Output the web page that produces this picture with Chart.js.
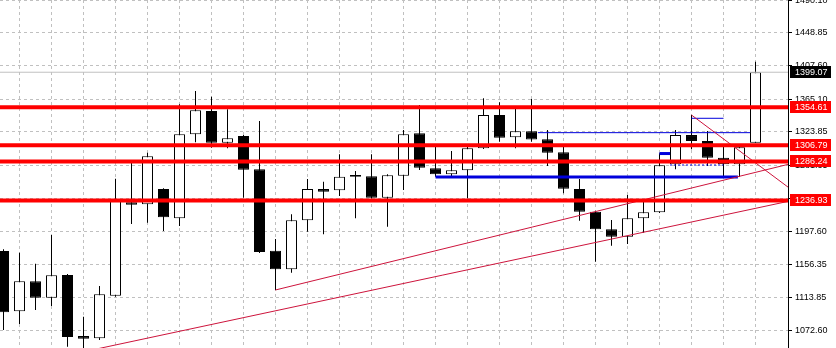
<!DOCTYPE html>
<html>
<head>
<meta charset="utf-8">
<style>
html, body { margin: 0; padding: 0; background: #fff; }
#wrap { width: 836px; height: 348px; }
</style>
<script src="https://cdn.jsdelivr.net/npm/chart.js@4.4.1/dist/chart.umd.min.js"></script>
</head>
<body>
<div id="wrap"><canvas id="chart" width="836" height="348"></canvas></div>
<script>
// OHLC per bar (bar index 0..47)
const opens = [1172.9, 1096.6, 1134.6, 1113.8, 1142.6, 1065.4, 1062.5, 1116.4, 1234.5, 1232.0,
    1251.3, 1214.3, 1320.5, 1350.0, 1309.9, 1318.4, 1276.3, 1173.3, 1149.8, 1211.7,
    1251.3, 1249.7, 1269.0, 1267.4, 1240.3, 1268.2, 1321.8, 1277.5, 1270.0, 1275.0,
    1302.8, 1344.9, 1316.7, 1324.3, 1314.2, 1297.8, 1251.3, 1222.6, 1200.4, 1191.0,
    1214.3, 1221.9, 1282.6, 1319.6, 1312.1, 1290.9, 1282.6, 1309.9];
const highs = [1175.0, 1170.7, 1156.8, 1193.1, 1143.8, 1089.8, 1128.6, 1264.4, 1284.6, 1297.3,
    1252.2, 1358.5, 1375.3, 1368.1, 1352.2, 1319.6, 1337.4, 1188.1, 1219.3, 1264.0,
    1260.6, 1295.2, 1274.1, 1295.2, 1269.9, 1326.0, 1357.6, 1304.9, 1299.4, 1306.1,
    1366.1, 1361.0, 1353.4, 1365.2, 1326.0, 1305.7, 1264.0, 1223.9, 1212.1, 1243.8,
    1235.3, 1296.5, 1326.0, 1344.9, 1324.7, 1304.9, 1305.7, 1412.4];
const lows = [1073.0, 1080.5, 1098.3, 1103.3, 1051.8, 1045.2, 1060.3, 1115.1, 1207.1, 1208.7,
    1198.2, 1204.5, 1310.4, 1303.6, 1302.8, 1240.3, 1170.4, 1123.6, 1145.4, 1197.3,
    1194.0, 1242.5, 1214.3, 1239.3, 1203.7, 1250.1, 1275.4, 1266.9, 1267.8, 1239.6,
    1301.9, 1311.2, 1302.8, 1311.2, 1280.4, 1245.9, 1211.2, 1159.4, 1179.6, 1181.8,
    1196.1, 1221.0, 1276.3, 1301.6, 1280.4, 1264.9, 1266.9, 1309.9];
const closes = [1095.4, 1134.6, 1113.8, 1142.2, 1064.1, 1062.0, 1118.1, 1236.2, 1231.5, 1292.7,
    1215.5, 1320.5, 1350.9, 1309.9, 1315.5, 1275.8, 1171.6, 1149.8, 1211.7, 1251.3,
    1247.9, 1266.9, 1266.9, 1240.3, 1268.7, 1320.5, 1278.3, 1270.0, 1275.0, 1302.8,
    1344.9, 1316.2, 1324.3, 1313.9, 1297.3, 1251.7, 1222.6, 1200.4, 1191.0, 1214.3,
    1221.9, 1281.3, 1319.6, 1312.1, 1290.9, 1282.6, 1304.1, 1399.07];

// price axis labels
const priceTicks = [1072.60, 1113.85, 1156.35, 1197.60, 1238.85, 1281.35, 1323.85, 1365.10, 1407.60, 1448.85, 1490.10];
// bars that get a vertical grid line
const gridBars = [1, 3, 5, 7, 9, 11, 13, 15, 17, 19, 21, 23, 25, 27, 29, 31, 33, 35, 37, 39, 41, 43, 45, 47];

// horizontal levels (red) and current price
const levels = [1354.61, 1306.79, 1286.24, 1236.93];
const bidPrice = 1399.07;

// trend lines: [barIndex, price] pairs
const trendLines = [
    [[5, 1045.4], [49.2, 1236.4]],
    [[17, 1123.6], [49.2, 1283.3]],
    [[43, 1344.9], [49.2, 1251.2]]
];

// blue segments: [fromBar, toBar, price]
const blueThick = [[27, 45.9, 1266.5], [41, 41.66, 1296.2]];
const blueThin = [[33.4, 46.66, 1322.6], [43, 45, 1340.8]];
const blueDotted = [[41.66, 45, 1281.7]];

const xMin = -0.21875;
const xMax = 49.03125;
const yMin = 1050.2;
const yMax = 1490.43;

const fontFamily = '"Liberation Sans", Arial, sans-serif';
const fontSize = 9;

const bodies = opens.map((o, i) => ({ x: i, y: [o, closes[i]] }));
const wicks = lows.map((l, i) => ({ x: i, y: [l, highs[i]] }));
const bodyFill = opens.map((o, i) => closes[i] > o ? '#ffffff' : '#000000');

function seg(from, to, price) {
    return [{ x: from, y: price }, { x: to, y: price }];
}

const lineSets = [];
levels.forEach(p => {
    lineSets.push({ type: 'line', data: seg(xMin, xMax, p), borderColor: '#ff0000', borderWidth: 4, pointRadius: 0, order: 0 });
});
lineSets.push({ type: 'line', data: seg(xMin, xMax, bidPrice), borderColor: '#c0c0c0', borderWidth: 1, pointRadius: 0, order: 0 });
trendLines.forEach(t => {
    lineSets.push({ type: 'line', data: t.map(p => ({ x: p[0], y: p[1] })), borderColor: 'rgb(205,20,60)', borderWidth: 1, pointRadius: 0, order: 0 });
});
blueThick.forEach(b => {
    lineSets.push({ type: 'line', data: seg(b[0], b[1], b[2]), borderColor: 'rgb(0,0,220)', borderWidth: 3, pointRadius: 0, order: 0 });
});
blueThin.forEach(b => {
    lineSets.push({ type: 'line', data: seg(b[0], b[1], b[2]), borderColor: 'rgb(0,0,220)', borderWidth: 1, pointRadius: 0, order: 0 });
});
blueDotted.forEach(b => {
    lineSets.push({ type: 'line', data: seg(b[0], b[1], b[2]), borderColor: 'rgb(0,0,220)', borderWidth: 1, borderDash: [2, 2], pointRadius: 0, order: 0 });
});

// price boxes on the axis
const priceBoxes = {
    id: 'priceBoxes',
    afterDraw(chart) {
        const { ctx, chartArea, scales: { y } } = chart;
        ctx.save();
        ctx.font = fontSize + 'px ' + fontFamily;
        ctx.textBaseline = 'middle';
        const boxes = levels.map(p => [p, '#ff0000']).concat([[bidPrice, '#000000']]);
        boxes.forEach(b => {
            const py = Math.round(y.getPixelForValue(b[0]));
            ctx.fillStyle = b[1];
            ctx.fillRect(chartArea.right + 2, py - 6, 41, 12);
            ctx.fillStyle = '#ffffff';
            ctx.fillText(b[0].toFixed(2), chartArea.right + 7, py + 0.5);
        });
        ctx.restore();
    }
};

const ctx = document.getElementById('chart').getContext('2d');

new Chart(ctx, {
    type: 'bar',
    data: {
        datasets: [
            {
                data: bodies,
                backgroundColor: bodyFill,
                borderColor: '#000000',
                borderWidth: 1,
                borderSkipped: false,
                barThickness: 11,
                grouped: false,
                inflateAmount: 0,
                order: 1
            },
            {
                data: wicks,
                backgroundColor: '#000000',
                borderWidth: 0,
                barThickness: 1,
                grouped: false,
                inflateAmount: 0,
                order: 2
            }
        ].concat(lineSets)
    },
    options: {
        responsive: false,
        animation: false,
        layout: { padding: 0 },
        plugins: {
            legend: { display: false },
            tooltip: { enabled: false }
        },
        scales: {
            x: {
                type: 'linear',
                offset: false,
                min: xMin,
                max: xMax,
                ticks: { display: false },
                grid: { color: '#c0c0c0', drawTicks: false, offset: false },
                border: { display: false, dash: [3, 3] },
                afterBuildTicks: scale => { scale.ticks = gridBars.map(v => ({ value: v })); },
                afterFit: scale => { scale.height = 0; scale.paddingLeft = 0; scale.paddingRight = 0; }
            },
            y: {
                position: 'right',
                min: yMin,
                max: yMax,
                ticks: {
                    autoSkip: false,
                    color: '#000000',
                    padding: 3,
                    font: { family: fontFamily, size: fontSize },
                    callback: v => v.toFixed(2)
                },
                grid: { color: '#c0c0c0', tickColor: '#000000', tickLength: 4, tickBorderDash: [] },
                border: { display: true, color: '#000000', width: 1, dash: [3, 3] },
                afterBuildTicks: scale => { scale.ticks = priceTicks.map(v => ({ value: v })); },
                afterFit: scale => { scale.width = 48; scale.paddingTop = 0; scale.paddingBottom = 0; }
            }
        }
    },
    plugins: [priceBoxes]
});
</script>
</body>
</html>
